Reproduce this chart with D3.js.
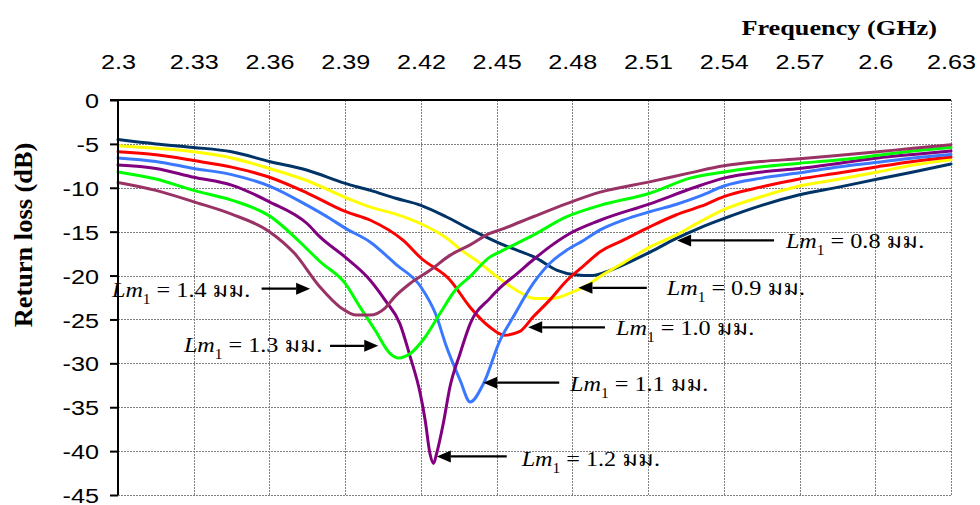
<!DOCTYPE html>
<html>
<head>
<meta charset="utf-8">
<script src="https://cdn.jsdelivr.net/npm/d3@7"></script>
<style>
  html, body { margin: 0; padding: 0; background: #fff; }
  svg { display: block; }
</style>
</head>
<body>
<svg id="chart" width="980" height="505"></svg>
<script>
// ---- axis ticks ----
const freqTicks = [2.3, 2.33, 2.36, 2.39, 2.42, 2.45, 2.48, 2.51, 2.54, 2.57, 2.6, 2.63];
const rlTicks = [0, -5, -10, -15, -20, -25, -30, -35, -40, -45];

// ---- measured return loss, one pair of arrays per Lm1 value ----
const f08 = [2.300, 2.315, 2.330, 2.345, 2.360, 2.375, 2.390, 2.400, 2.410, 2.420, 2.430, 2.440, 2.451, 2.458, 2.465, 2.474, 2.481, 2.488, 2.495, 2.503, 2.511, 2.521, 2.531, 2.540, 2.555, 2.570, 2.586, 2.601, 2.615, 2.630];
const rl08 = [-4.5, -5.0, -5.4, -5.9, -7.0, -8.0, -9.5, -10.3, -11.2, -12.0, -13.3, -14.8, -16.3, -17.1, -17.9, -19.4, -19.9, -20.0, -19.4, -18.4, -17.3, -15.8, -14.5, -13.5, -12.0, -10.8, -9.9, -9.0, -8.2, -7.3];

const f09 = [2.300, 2.315, 2.330, 2.345, 2.360, 2.375, 2.390, 2.400, 2.410, 2.420, 2.430, 2.436, 2.443, 2.450, 2.458, 2.465, 2.472, 2.479, 2.487, 2.491, 2.500, 2.511, 2.521, 2.531, 2.540, 2.555, 2.570, 2.586, 2.601, 2.615, 2.630];
const rl09 = [-5.2, -5.5, -5.9, -6.6, -7.8, -9.2, -11.1, -12.2, -13.0, -14.1, -15.7, -17.1, -18.5, -20.1, -21.7, -22.6, -22.6, -22.0, -20.9, -20.1, -18.6, -16.7, -15.4, -13.8, -12.5, -11.0, -9.8, -9.0, -8.2, -7.4, -6.8];

const f10 = [2.300, 2.315, 2.330, 2.345, 2.360, 2.375, 2.390, 2.400, 2.413, 2.420, 2.4315, 2.4395, 2.447, 2.453, 2.459, 2.4645, 2.471, 2.478, 2.484, 2.491, 2.500, 2.511, 2.521, 2.531, 2.540, 2.555, 2.570, 2.586, 2.601, 2.615, 2.630];
const rl10 = [-5.9, -6.25, -6.9, -7.65, -8.8, -10.6, -12.7, -13.7, -16.0, -18.0, -20.5, -23.6, -25.8, -26.8, -26.4, -24.7, -22.8, -20.5, -19.0, -17.3, -16.0, -14.4, -13.1, -12.1, -11.0, -9.9, -9.0, -8.3, -7.6, -7.0, -6.5];

const f11 = [2.300, 2.315, 2.330, 2.345, 2.360, 2.375, 2.384, 2.390, 2.400, 2.410, 2.420, 2.426, 2.430, 2.4355, 2.4395, 2.4448, 2.4513, 2.4566, 2.4645, 2.4711, 2.4778, 2.4844, 2.491, 2.500, 2.511, 2.521, 2.531, 2.540, 2.555, 2.570, 2.586, 2.601, 2.615, 2.630];
const rl11 = [-6.6, -7.0, -7.8, -8.5, -9.8, -12.0, -13.5, -14.6, -16.2, -18.7, -21.3, -24.5, -28.0, -31.9, -34.4, -32.3, -27.4, -24.7, -20.9, -18.6, -17.1, -16.0, -14.8, -13.7, -12.7, -11.9, -10.9, -9.8, -8.9, -8.3, -7.6, -7.1, -6.6, -6.2];

const f12 = [2.300, 2.315, 2.330, 2.345, 2.360, 2.375, 2.380, 2.390, 2.3998, 2.4058, 2.4117, 2.4157, 2.4197, 2.4217, 2.4236, 2.425, 2.4262, 2.4289, 2.4315, 2.4355, 2.4395, 2.4473, 2.4513, 2.458, 2.4645, 2.4711, 2.4778, 2.491, 2.511, 2.528, 2.540, 2.555, 2.570, 2.586, 2.601, 2.615, 2.630];
const rl12 = [-7.4, -7.8, -8.8, -9.7, -11.6, -14.1, -15.6, -17.9, -20.5, -22.8, -25.5, -29.2, -33.4, -36.5, -40.3, -41.4, -40.3, -36.8, -32.7, -28.9, -25.5, -22.6, -21.4, -19.8, -18.2, -16.7, -15.4, -13.7, -11.8, -10.0, -8.9, -8.2, -7.8, -7.2, -6.6, -6.2, -5.8];

const f13 = [2.300, 2.315, 2.330, 2.345, 2.360, 2.375, 2.380, 2.390, 2.3959, 2.4018, 2.4078, 2.4111, 2.4137, 2.4157, 2.4217, 2.4276, 2.4335, 2.4395, 2.4473, 2.4513, 2.4645, 2.4778, 2.491, 2.511, 2.5266, 2.540, 2.555, 2.570, 2.586, 2.601, 2.615, 2.630];
const rl13 = [-8.2, -9.0, -10.3, -11.4, -13.2, -17.0, -18.4, -20.9, -23.6, -26.2, -28.9, -29.4, -29.2, -28.9, -27.0, -24.3, -21.7, -20.1, -17.9, -17.3, -15.4, -13.3, -12.0, -10.6, -8.9, -8.2, -7.6, -7.2, -6.8, -6.3, -5.8, -5.4];

const f14 = [2.300, 2.315, 2.330, 2.345, 2.360, 2.370, 2.380, 2.388, 2.3946, 2.3998, 2.4058, 2.4097, 2.4157, 2.4236, 2.4315, 2.4395, 2.4473, 2.4513, 2.4593, 2.4645, 2.4778, 2.491, 2.511, 2.5266, 2.540, 2.555, 2.570, 2.586, 2.601, 2.615, 2.630];
const rl14 = [-9.4, -10.3, -11.6, -13.0, -15.0, -17.5, -21.3, -23.6, -24.5, -24.5, -23.7, -22.4, -20.9, -19.4, -17.7, -16.5, -15.2, -14.8, -13.9, -13.3, -11.8, -10.5, -9.3, -8.3, -7.5, -7.0, -6.7, -6.3, -5.9, -5.5, -5.1];

const lmValues = ["0.8", "0.9", "1.0", "1.1", "1.2", "1.3", "1.4"];
const seriesFreq = [f08, f09, f10, f11, f12, f13, f14];
const seriesRl = [rl08, rl09, rl10, rl11, rl12, rl13, rl14];
const seriesColor = ["#003366", "#ffff00", "#ff0000", "#3a78ff", "#800080", "#00ff00", "#993366"];

// ---- callouts, in data units: arrow tip, arrow tail (same dB), label anchor ----
const noteTipF   = [2.5215, 2.4824, 2.4625, 2.4447, 2.4263, 2.4031, 2.3761];
const noteTipDb  = [-16.0, -21.4, -25.9, -32.2, -40.6, -28.0, -21.5];
const noteTailF  = [2.5599, 2.5095, 2.4929, 2.4748, 2.4540, 2.3840, 2.3569];
const noteTextF  = [2.5646, 2.5174, 2.4973, 2.4791, 2.4599, 2.3261, 2.2976];
const noteTextDb = [-16.9, -22.2, -26.8, -33.1, -41.7, -28.7, -22.4];

// ---- layout ----
const svg = d3.select("#chart");
const x = d3.scaleLinear().domain([2.3, 2.63]).range([118, 951]);
const y = d3.scaleLinear().domain([0, -45]).range([100, 495]);
const stretch = 1.2;   // glyphs are drawn slightly wide
const sans = "'Liberation Sans', Arial, sans-serif";
const serif = "'Liberation Serif', 'Times New Roman', 'Noto Serif Thai', 'Noto Sans Thai', 'DejaVu Sans', serif";

// grid
const grid = svg.append("g").attr("stroke", "#808080").attr("stroke-width", 1)
  .attr("stroke-dasharray", "2,1").attr("shape-rendering", "crispEdges");
grid.selectAll("line.v").data(freqTicks.slice(1)).join("line")
  .attr("class", "v")
  .attr("x1", d => Math.round(x(d)) + 0.5).attr("x2", d => Math.round(x(d)) + 0.5)
  .attr("y1", y(0)).attr("y2", y(-45));
grid.selectAll("line.h").data(rlTicks.slice(1)).join("line")
  .attr("class", "h")
  .attr("x1", x(2.3)).attr("x2", x(2.63))
  .attr("y1", d => Math.round(y(d)) + 0.5).attr("y2", d => Math.round(y(d)) + 0.5);

// curves
const line = d3.line().x(d => x(d[0])).y(d => y(d[1])).curve(d3.curveMonotoneX);
const curves = svg.append("g").attr("fill", "none").attr("stroke-width", 3)
  .attr("stroke-linejoin", "round").attr("stroke-linecap", "round");
seriesFreq.forEach((fs, i) => {
  curves.append("path")
    .datum(fs.map((f, k) => [f, seriesRl[i][k]]))
    .attr("stroke", seriesColor[i])
    .attr("d", line);
});

// top frequency axis (labels only, with the frame line at 0 dB)
const xAxis = d3.axisTop(x).tickValues(freqTicks).tickSize(0).tickPadding(0)
  .tickFormat(d => String(+d.toFixed(2)));
const gx = svg.append("g").attr("transform", `translate(0,${y(0)})`).call(xAxis);
gx.select(".domain").remove();
gx.selectAll("text")
  .attr("y", -31).attr("dy", null)
  .attr("font-family", sans).attr("font-size", 21).attr("fill", "#000")
  .attr("transform", `scale(${stretch},1)`);
svg.append("line").attr("x1", x(2.3) - 8).attr("x2", x(2.63))
  .attr("y1", y(0)).attr("y2", y(0))
  .attr("stroke", "#000").attr("stroke-width", 2);

// left return loss axis
const yAxis = d3.axisLeft(y).tickValues(rlTicks).tickSize(8).tickPadding(0)
  .tickFormat(d => String(d));
const gy = svg.append("g").attr("transform", `translate(${x(2.3)},0)`).call(yAxis);
gy.select(".domain").attr("stroke-width", 2).attr("d", `M0,${y(0)}V${y(-45)}`);
gy.selectAll(".tick line").attr("stroke-width", 2);
gy.selectAll("text")
  .attr("x", -19 / stretch).attr("dy", "0.36em")
  .attr("font-family", sans).attr("font-size", 21).attr("fill", "#000")
  .attr("transform", `scale(${stretch},1)`);

// axis titles
svg.append("text")
  .attr("transform", `translate(937,35) scale(1.25,1)`)
  .attr("text-anchor", "end")
  .attr("font-family", serif).attr("font-weight", "bold").attr("font-size", 21)
  .text("Frequency (GHz)");
svg.append("text")
  .attr("transform", `translate(32,235) rotate(-90) scale(1.1,1.05)`)
  .attr("text-anchor", "middle")
  .attr("font-family", serif).attr("font-weight", "bold").attr("font-size", 24)
  .text("Return loss (dB)");

// callouts
const notes = svg.append("g");
lmValues.forEach((lm, i) => {
  const ay = y(noteTipDb[i]);
  const tx = x(noteTipF[i]), sx = x(noteTailF[i]);
  const dir = Math.sign(tx - sx);
  const head = 14, half = 6;
  notes.append("line")
    .attr("x1", sx).attr("x2", tx - dir * head)
    .attr("y1", ay).attr("y2", ay)
    .attr("stroke", "#000").attr("stroke-width", 2.2);
  notes.append("path")
    .attr("d", `M${tx},${ay}L${tx - dir * head},${ay - half}L${tx - dir * head},${ay + half}Z`)
    .attr("fill", "#000");

  const t = notes.append("text")
    .attr("transform", `translate(${x(noteTextF[i])},${y(noteTextDb[i])}) scale(1.1,1)`)
    .attr("font-family", serif).attr("font-size", 22).attr("fill", "#000");
  t.append("tspan").attr("font-style", "italic").text("Lm");
  t.append("tspan").attr("font-size", 14).attr("dy", 7).text("1");
  t.append("tspan").attr("dy", -7).text(` = ${lm} มม.`);
});
</script>
</body>
</html>
